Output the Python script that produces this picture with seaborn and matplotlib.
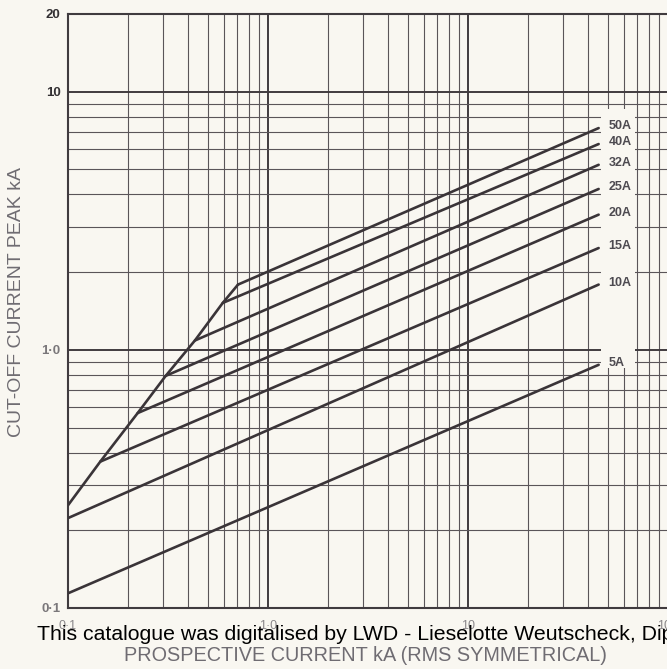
import numpy as np
import pandas as pd
import matplotlib
matplotlib.use("Agg")
import matplotlib.pyplot as plt
from matplotlib.ticker import FixedLocator, FixedFormatter
from matplotlib.patches import Rectangle
import seaborn as sns

# ---------------- data ----------------
ratings = ["5A", "10A", "15A", "20A", "25A", "32A", "40A", "50A"]
# start of each straight rating line (knee point, or left edge for 5A/10A)
start_x = [0.1, 0.1, 0.145, 0.223, 0.308, 0.431, 0.594, 0.708]
start_y = [0.114, 0.223, 0.369, 0.569, 0.793, 1.087, 1.52, 1.79]
end_x = [45, 45, 45, 45, 45, 45, 45, 45]
end_y = [0.875, 1.79, 2.48, 3.34, 4.20, 5.21, 6.27, 7.23]
# knee envelope joining the cut-off knees
knee_x = [0.1, 0.145, 0.223, 0.308, 0.431, 0.594, 0.708]
knee_y = [0.25, 0.369, 0.569, 0.793, 1.087, 1.52, 1.79]

x_major = [0.1, 1, 10, 100]
x_major_labels = ["0·1", "1·0", "10", "100"]
x_minor = [0.2, 0.3, 0.4, 0.5, 0.6, 0.7, 0.8, 0.9,
           2, 3, 4, 5, 6, 7, 8, 9,
           20, 30, 40, 50, 60, 70, 80, 90]
y_major = [0.1, 1, 10, 20]
y_major_labels = ["0·1", "1·0", "10", "20"]
y_minor = [0.2, 0.3, 0.4, 0.5, 0.6, 0.7, 0.8, 0.9,
           2, 3, 4, 5, 6, 7, 8, 9]
marked_minor = [0.5, 5, 50]

# label panel (blank area behind the rating labels)
panel_x = (46, 68)
panel_y = (0.85, 8.6)

rows = []
for r, sx, sy, ex, ey in zip(ratings, start_x, start_y, end_x, end_y):
    rows.append({"series": r, "x": sx, "y": sy})
    rows.append({"series": r, "x": ex, "y": ey})
for kx, ky in zip(knee_x, knee_y):
    rows.append({"series": "knee", "x": kx, "y": ky})
df = pd.DataFrame(rows)
series_order = ratings + ["knee"]

# ---------------- style ----------------
BG = "#f9f7f1"
INK = "#3a3438"
GRID = "#5a5559"
sns.set_style("white", rc={"axes.facecolor": BG, "figure.facecolor": BG})
plt.rcParams["font.family"] = ["Liberation Sans", "DejaVu Sans"]

fig = plt.figure(figsize=(6.67, 6.69), dpi=100)
fig.patch.set_facecolor(BG)
ax = fig.add_axes([68 / 667, 61 / 669, 600 / 667, 594 / 669])
ax.set_facecolor(BG)

sns.lineplot(data=df, x="x", y="y", hue="series", hue_order=series_order,
             units="series", estimator=None, sort=False,
             palette=[INK] * len(series_order), legend=False,
             linewidth=1.9, ax=ax, zorder=3)

ax.set_xscale("log")
ax.set_yscale("log")
ax.set_xlim(0.1, 100)
ax.set_ylim(0.1, 20)

ax.xaxis.set_major_locator(FixedLocator(x_major))
ax.xaxis.set_major_formatter(FixedFormatter(x_major_labels))
ax.xaxis.set_minor_locator(FixedLocator(x_minor))
ax.xaxis.set_minor_formatter(FixedFormatter([""] * len(x_minor)))
ax.yaxis.set_major_locator(FixedLocator(y_major))
ax.yaxis.set_major_formatter(FixedFormatter(y_major_labels))
ax.yaxis.set_minor_locator(FixedLocator(y_minor))
ax.yaxis.set_minor_formatter(FixedFormatter([""] * len(y_minor)))

ax.set_axisbelow(True)
ax.grid(which="major", color="#403b3f", linewidth=1.4)
ax.grid(which="minor", color=GRID, linewidth=0.8)

for s in ["left", "bottom", "top"]:
    ax.spines[s].set_color("#403b3f")
    ax.spines[s].set_linewidth(1.5)
ax.spines["right"].set_visible(False)

ax.tick_params(which="both", direction="out", color="#403b3f", width=1.0)
ax.tick_params(axis="x", which="both", length=5, pad=3.5, labelsize=9, labelcolor="#8a878a")
ax.tick_params(axis="y", which="both", length=4.5, pad=0.8, labelsize=9.5)

for lab, col in zip(ax.get_yticklabels(), ["#7a777a", "#7a777a", "#333033", "#333033"]):
    lab.set_color(col)
    lab.set_fontweight("bold")

# blank panel behind the labels
ax.add_patch(Rectangle((panel_x[0], panel_y[0]), panel_x[1] - panel_x[0],
                       panel_y[1] - panel_y[0], facecolor=BG, edgecolor="none", zorder=1.5))

# rating labels at the end of every curve
for r, ex, ey in zip(ratings, end_x, end_y):
    ax.annotate(r, xy=(ex, ey), xytext=(10, 2), textcoords="offset pixels",
                ha="left", va="center", fontsize=9, fontweight="bold",
                color="#4d4a50", zorder=4)

# only some minor ticks carry a tick mark
fig.canvas.draw()
for axis in (ax.xaxis, ax.yaxis):
    locs = axis.get_minorticklocs()
    for t, loc in zip(axis.get_minor_ticks(len(locs)), locs):
        if not any(np.isclose(loc, m) for m in marked_minor):
            t.tick1line.set_visible(False)

ax.set_xlabel("")
ax.set_ylabel("")
fig.text(16.5 / 667, 1 - 301.5 / 669, "CUT-OFF CURRENT PEAK kA", rotation=90,
         ha="center", va="center", fontsize=14, color="#6f6c72")
fig.text(365 / 667, 1 - 661 / 669, "PROSPECTIVE CURRENT kA (RMS SYMMETRICAL)",
         ha="center", va="baseline", fontsize=14.3, color="#6f6c72")
fig.text(37 / 667, 1 - 640 / 669,
         "This catalogue was digitalised by LWD - Lieselotte Weutscheck, Dipl.-Ing.",
         ha="left", va="baseline", fontsize=15.3, color="black")

fig.savefig("out.png", dpi=100, facecolor=BG)
